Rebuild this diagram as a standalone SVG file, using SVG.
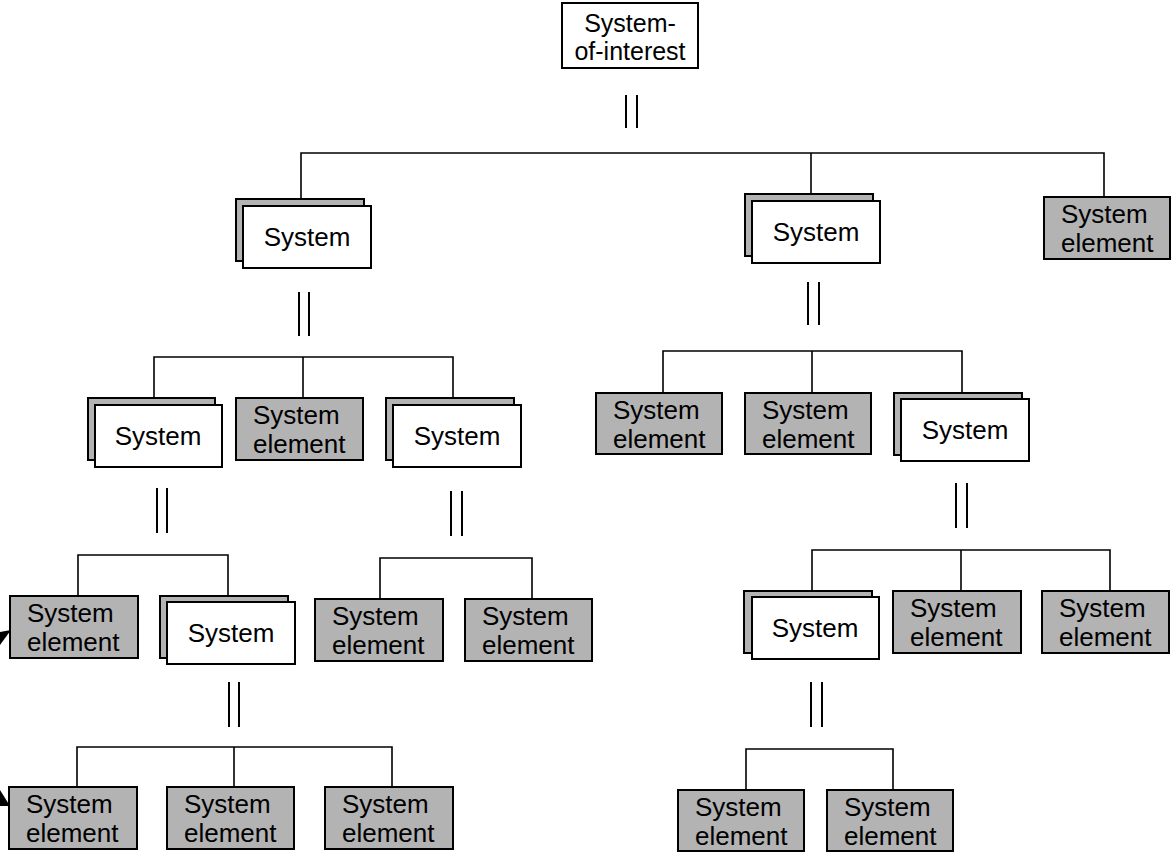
<svg xmlns="http://www.w3.org/2000/svg" width="1173" height="858" viewBox="0 0 1173 858">
<style>
.bg{fill:#ffffff}
.box{fill:#ffffff;stroke:#000;stroke-width:2}
.back{fill:#b3b3b3;stroke:#000;stroke-width:2}
.el{fill:#b3b3b3;stroke:#000;stroke-width:2}
.t{font-family:"Liberation Sans",Arial,sans-serif;font-size:26px;fill:#000}
.ts{font-size:25px}
.c{text-anchor:middle}
.ln{fill:none;stroke:#000;stroke-width:1.6}
.bar{fill:none;stroke:#000;stroke-width:2}
.ah{fill:#000;stroke:none}
</style>
<rect class="bg" x="0" y="0" width="1173" height="858"/>

<g id="connectors">
  <!-- double bars -->
  <path class="bar" d="M626 95V128M637 95V128"/>
  <path class="bar" d="M299 292V336M309 292V336"/>
  <path class="bar" d="M808 282V325M819 282V325"/>
  <path class="bar" d="M157 488V533M167 488V533"/>
  <path class="bar" d="M451 491V536M462 491V536"/>
  <path class="bar" d="M956 483V528M967 483V528"/>
  <path class="bar" d="M229 682V727M239 682V727"/>
  <path class="bar" d="M811 682V727M822 682V727"/>
  <!-- buses -->
  <path class="ln" d="M301 199V153H1104V197M811 153V194"/>
  <path class="ln" d="M154 398V357H453V398M303 357V398"/>
  <path class="ln" d="M663 393V351H962V393M812 351V393"/>
  <path class="ln" d="M78 596V555H228V596"/>
  <path class="ln" d="M380 599V558H532V599"/>
  <path class="ln" d="M812 591V550H1110V591M961 550V591"/>
  <path class="ln" d="M77 787V747H392V787M234 747V787"/>
  <path class="ln" d="M746 790V749H893V790"/>
  <!-- arrowheads at left edge -->
  <polygon class="ah" points="0,632 11,630 0,645"/>
  <polygon class="ah" points="0,790 10,806 0,806"/>
</g>

<g id="system-of-interest">
  <rect class="box" x="562" y="3" width="136" height="65"/>
  <text class="t ts c" x="630" y="32">System-</text>
  <text class="t ts c" x="630" y="60">of-interest</text>
</g>

<g id="sys-A">
  <rect class="back" x="236" y="199" width="128" height="62"/>
  <rect class="box" x="243" y="206" width="128" height="62"/>
  <text class="t c" x="307" y="246">System</text>
</g>
<g id="sys-B">
  <rect class="back" x="745" y="194" width="128" height="62"/>
  <rect class="box" x="752" y="201" width="128" height="62"/>
  <text class="t c" x="816" y="241">System</text>
</g>
<g id="el-C">
  <rect class="el" x="1044" y="197" width="126" height="62"/>
  <text class="t" x="1061" y="223">System</text>
  <text class="t" x="1061" y="252">element</text>
</g>

<g id="sys-D">
  <rect class="back" x="88" y="398" width="127" height="62"/>
  <rect class="box" x="95" y="405" width="127" height="62"/>
  <text class="t c" x="158" y="445">System</text>
</g>
<g id="el-E">
  <rect class="el" x="236" y="398" width="127" height="62"/>
  <text class="t" x="253" y="424">System</text>
  <text class="t" x="253" y="453">element</text>
</g>
<g id="sys-F">
  <rect class="back" x="386" y="398" width="128" height="62"/>
  <rect class="box" x="393" y="405" width="128" height="62"/>
  <text class="t c" x="457" y="445">System</text>
</g>

<g id="el-G">
  <rect class="el" x="596" y="393" width="126" height="61"/>
  <text class="t" x="613" y="419">System</text>
  <text class="t" x="613" y="448">element</text>
</g>
<g id="el-H">
  <rect class="el" x="745" y="393" width="126" height="61"/>
  <text class="t" x="762" y="419">System</text>
  <text class="t" x="762" y="448">element</text>
</g>
<g id="sys-I">
  <rect class="back" x="894" y="393" width="128" height="62"/>
  <rect class="box" x="901" y="399" width="128" height="62"/>
  <text class="t c" x="965" y="439">System</text>
</g>

<g id="el-J">
  <rect class="el" x="10" y="596" width="128" height="62"/>
  <text class="t" x="27" y="622">System</text>
  <text class="t" x="27" y="651">element</text>
</g>
<g id="sys-K">
  <rect class="back" x="160" y="596" width="128" height="62"/>
  <rect class="box" x="167" y="602" width="128" height="62"/>
  <text class="t c" x="231" y="642">System</text>
</g>
<g id="el-L">
  <rect class="el" x="315" y="599" width="128" height="62"/>
  <text class="t" x="332" y="625">System</text>
  <text class="t" x="332" y="654">element</text>
</g>
<g id="el-M">
  <rect class="el" x="465" y="599" width="127" height="62"/>
  <text class="t" x="482" y="625">System</text>
  <text class="t" x="482" y="654">element</text>
</g>

<g id="sys-N">
  <rect class="back" x="744" y="591" width="128" height="62"/>
  <rect class="box" x="752" y="597" width="127" height="62"/>
  <text class="t c" x="815" y="637">System</text>
</g>
<g id="el-O">
  <rect class="el" x="893" y="591" width="128" height="62"/>
  <text class="t" x="910" y="617">System</text>
  <text class="t" x="910" y="646">element</text>
</g>
<g id="el-P">
  <rect class="el" x="1042" y="591" width="127" height="62"/>
  <text class="t" x="1059" y="617">System</text>
  <text class="t" x="1059" y="646">element</text>
</g>

<g id="el-Q">
  <rect class="el" x="9" y="787" width="128" height="62"/>
  <text class="t" x="26" y="813">System</text>
  <text class="t" x="26" y="842">element</text>
</g>
<g id="el-R">
  <rect class="el" x="167" y="787" width="127" height="62"/>
  <text class="t" x="184" y="813">System</text>
  <text class="t" x="184" y="842">element</text>
</g>
<g id="el-S">
  <rect class="el" x="325" y="787" width="128" height="62"/>
  <text class="t" x="342" y="813">System</text>
  <text class="t" x="342" y="842">element</text>
</g>

<g id="el-T">
  <rect class="el" x="678" y="790" width="126" height="61"/>
  <text class="t" x="695" y="816">System</text>
  <text class="t" x="695" y="845">element</text>
</g>
<g id="el-U">
  <rect class="el" x="827" y="790" width="126" height="61"/>
  <text class="t" x="844" y="816">System</text>
  <text class="t" x="844" y="845">element</text>
</g>
</svg>
